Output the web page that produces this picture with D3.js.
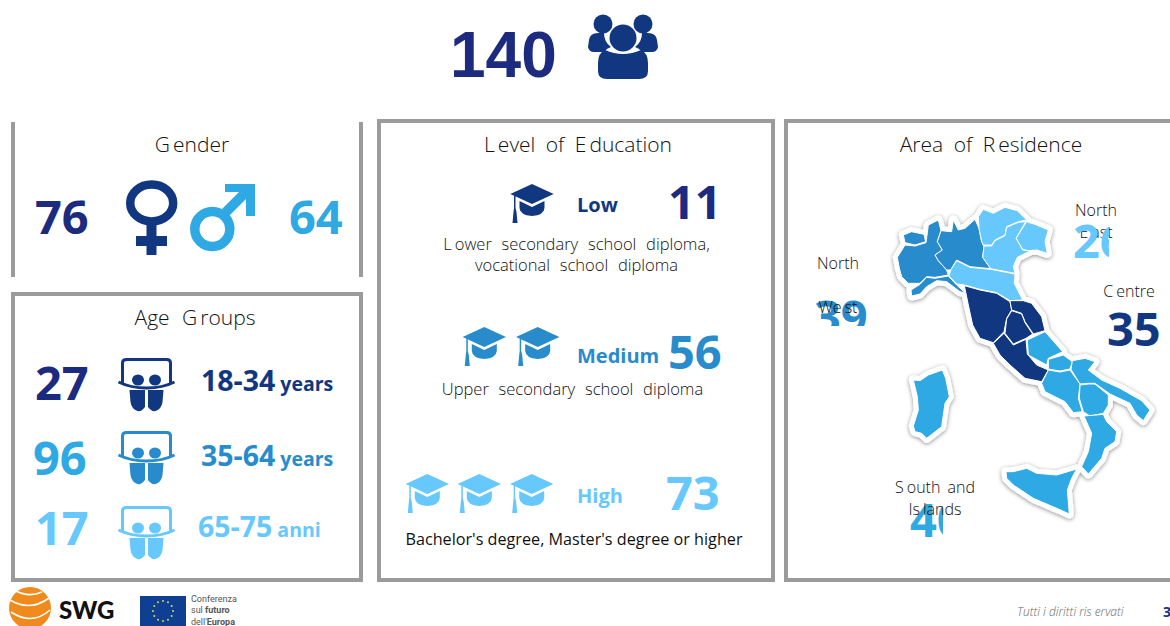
<!DOCTYPE html>
<html>
<head>
<meta charset="utf-8">
<script src="https://d3js.org/d3.v7.min.js"></script>
<style>
  html, body { margin: 0; padding: 0; background: #fff; overflow: hidden; }
  text { font-family: "Open Sans", sans-serif; }
  .num { font-weight: 700; font-size: 47px; }
  .title { font-weight: 300; font-size: 21px; fill: #111; word-spacing: 5px; }
  .region { font-weight: 300; font-size: 16px; fill: #111; word-spacing: 3px; }
  .note { font-weight: 300; font-size: 16.5px; fill: #111; word-spacing: 5.5px; }
  .note.plain { font-weight: 400; font-size: 16.2px; word-spacing: 0; }
  .lab { font-weight: 700; }
</style>
</head>
<body>
<div id="viz"></div>
<script>
// values
var total = 140;

var genderNames = ["Female", "Male"];
var genderValues = [76, 64];

var ageGroups = ["18-34", "35-64", "65-75"];
var ageUnits = ["years", "years", "anni"];
var ageValues = [27, 96, 17];

var eduLevels = ["Low", "Medium", "High"];
var eduValues = [11, 56, 73];
var eduHats = [1, 2, 3];
var eduNotes = [
    ["L|ower secondary school diploma,", "vocational school diploma"],
    ["Upper secondary school diploma"],
    ["Bachelor's degree, Master's degree or higher"]
];

var regionNames = ["North West", "North East", "Centre", "South and Islands"];
var regionValues = [39, 26, 35, 40];
var regionLines = [["North", "We|st"], ["North", "E|ast"], ["C|entre"], ["S|outh and", "Is|lands"]];

// colours
var navy = "#1c2a80", dark = "#10377f", mid = "#288bcb", sky = "#2fa9e3", light = "#66c8fd";

var width = 1170, height = 626;

var svg = d3.select("#viz").append("svg")
    .attr("width", width)
    .attr("height", height)
    .style("display", "block");

var defs = svg.append("defs");

// puts real text in, with the odd gap the slide has after some letters
function gapText(sel, str) {
    str.split("|").forEach(function(part, i) {
        sel.append("tspan").attr("dx", i ? 3 : null).text(part);
    });
    return sel;
}

// ---- panels
var grey = "#9b9b9b";
[[13, 122, 13, 277], [361, 122, 361, 277]].forEach(function(l) {
    svg.append("line")
        .attr("x1", l[0]).attr("y1", l[1]).attr("x2", l[2]).attr("y2", l[3])
        .attr("stroke", grey).attr("stroke-width", 4);
});
[[13, 294, 348, 286], [379, 121, 394, 459], [786, 121, 400, 459]].forEach(function(r) {
    svg.append("rect")
        .attr("x", r[0]).attr("y", r[1]).attr("width", r[2]).attr("height", r[3])
        .attr("fill", "none").attr("stroke", grey).attr("stroke-width", 4);
});

svg.append("text").attr("class", "title").attr("x", 192).attr("y", 152).attr("text-anchor", "middle").call(gapText, "G|ender");
svg.append("text").attr("class", "title").attr("x", 195).attr("y", 325).attr("text-anchor", "middle").style("word-spacing", "7px").call(gapText, "Age G|roups");
svg.append("text").attr("class", "title").attr("x", 578).attr("y", 152).attr("text-anchor", "middle").call(gapText, "L|evel of E|ducation");
svg.append("text").attr("class", "title").attr("x", 991).attr("y", 152).attr("text-anchor", "middle").call(gapText, "Area of R|esidence");

// ---- total
svg.append("text")
    .attr("x", 450).attr("y", 77)
    .style("font-family", "'Liberation Sans', sans-serif")
    .style("font-weight", 700).style("font-size", "64px")
    .attr("fill", navy)
    .text(total);

var people = svg.append("g").attr("transform", "translate(623,0)").attr("fill", dark);
[-20, 20].forEach(function(dx) {
    people.append("circle").attr("cx", dx).attr("cy", 24).attr("r", 9.5);
    people.append("path")
        .attr("transform", "translate(" + dx + ",0)" + (dx > 0 ? " scale(-1,1)" : ""))
        .attr("d", "M-5,33 Q-13,33 -14,40 L-15,47 Q-14,52 -9,52 L1,52 Q4,48 8,47 Q1,42 1,33 Z");
});
people.append("circle").attr("cx", 0).attr("cy", 38).attr("r", 13.5);
people.append("path").attr("d", "M-18,50 Q0,58 18,50 Q25,53 25,63 L25,71 Q25,79 16,79 L-16,79 Q-25,79 -25,71 L-25,63 Q-25,53 -18,50 Z");

// ---- gender
var genderX = d3.scaleOrdinal().domain(genderNames).range([35, 289]);
var genderFill = d3.scaleOrdinal().domain(genderNames).range([navy, sky]);

svg.selectAll(".gender").data(genderNames).enter().append("text")
    .attr("class", "num gender")
    .attr("x", function(d) { return genderX(d); })
    .attr("y", 234)
    .attr("fill", function(d) { return genderFill(d); })
    .text(function(d, i) { return genderValues[i]; });

var venus = svg.append("g").attr("fill", dark);
venus.append("ellipse").attr("cx", 151.7).attr("cy", 203).attr("rx", 21.5).attr("ry", 18.5)
    .attr("fill", "none").attr("stroke", dark).attr("stroke-width", 8.5);
venus.append("rect").attr("x", 146.5).attr("y", 224).attr("width", 10).attr("height", 31);
venus.append("rect").attr("x", 136).attr("y", 236).attr("width", 31).attr("height", 10);

var mars = svg.append("g");
mars.append("circle").attr("cx", 212.3).attr("cy", 229).attr("r", 17.5)
    .attr("fill", "none").attr("stroke", sky).attr("stroke-width", 9.5);
mars.append("path").attr("fill", sky)
    .attr("d", "M225,184 L255,184 L255,216 L246,216 L246,199 L229,216 L222,209 L239,192 L225,192 Z");

// ---- age
var ageY = d3.scaleOrdinal().domain(ageGroups).range([400, 475, 545]);
var ageNumX = d3.scaleOrdinal().domain(ageGroups).range([35, 33, 35]);
var ageNumFill = d3.scaleOrdinal().domain(ageGroups).range([navy, sky, light]);
var ageFill = d3.scaleOrdinal().domain(ageGroups).range([dark, mid, light]);
var ageLabX = d3.scaleOrdinal().domain(ageGroups).range([201, 201, 198]);
var ageLabY = d3.scaleOrdinal().domain(ageGroups).range([391, 466, 537]);
var ageIconY = d3.scaleOrdinal().domain(ageGroups).range([358, 431, 506]);

svg.selectAll(".agenum").data(ageGroups).enter().append("text")
    .attr("class", "num agenum")
    .attr("x", function(d) { return ageNumX(d); })
    .attr("y", function(d) { return ageY(d); })
    .attr("fill", function(d) { return ageNumFill(d); })
    .text(function(d, i) { return ageValues[i]; });

var ageLab = svg.selectAll(".agelab").data(ageGroups).enter().append("text")
    .attr("class", "lab agelab")
    .attr("x", function(d) { return ageLabX(d); })
    .attr("y", function(d) { return ageLabY(d); })
    .attr("fill", function(d) { return ageFill(d); });
ageLab.append("tspan").style("font-size", "28.5px").text(function(d) { return d; });
ageLab.append("tspan").style("font-size", "19.5px").attr("dx", 5).text(function(d, i) { return ageUnits[i]; });

var ageIcon = svg.selectAll(".ageicon").data(ageGroups).enter().append("g")
    .attr("class", "ageicon")
    .attr("transform", function(d) { return "translate(146.5," + ageIconY(d) + ")"; });
ageIcon.each(function(d) {
    var g = d3.select(this), c = ageFill(d);
    g.append("path").attr("fill", "none").attr("stroke", c).attr("stroke-width", 3)
        .attr("d", "M-24,25 L-24,5 Q-24,1.5 -20,1.5 L20,1.5 Q24,1.5 24,5 L24,25");
    g.append("path").attr("fill", "none").attr("stroke", c).attr("stroke-width", 3)
        .attr("d", "M-28,24 Q-16,30 0,30 Q16,30 28,24");
    g.append("ellipse").attr("cx", -8.5).attr("cy", 22).attr("rx", 6).attr("ry", 5.5).attr("fill", c);
    g.append("ellipse").attr("cx", 8.5).attr("cy", 22).attr("rx", 6).attr("ry", 5.5).attr("fill", c);
    [1, -1].forEach(function(s) {
        g.append("path").attr("fill", c).attr("transform", "scale(" + s + ",1)")
            .attr("d", "M-17,32 L-1.5,32 L-1.5,49 Q-5,54 -9,53 Q-15,51 -16,44 Z");
    });
});

// ---- education
var eduNumX = d3.scaleOrdinal().domain(eduLevels).range([668, 668, 666]);
var eduNumY = d3.scaleOrdinal().domain(eduLevels).range([219, 369, 510]);
var eduLabY = d3.scaleOrdinal().domain(eduLevels).range([212, 363, 503]);
var eduFill = d3.scaleOrdinal().domain(eduLevels).range([dark, mid, light]);
var eduNumFill = d3.scaleOrdinal().domain(eduLevels).range([navy, mid, light]);
var eduNoteY = d3.scaleOrdinal().domain(eduLevels).range([250, 395, 545]);
var eduNoteX = d3.scaleOrdinal().domain(eduLevels).range([576.5, 572.5, 574]);
var eduHatY = d3.scaleOrdinal().domain(eduLevels).range([184, 327, 474]);
var hatX = d3.scaleOrdinal().domain(eduLevels).range([[532], [484.3, 537.7], [427.3, 479.3, 531.7]]);

svg.selectAll(".edulab").data(eduLevels).enter().append("text")
    .attr("class", "lab edulab")
    .attr("x", 577)
    .attr("y", function(d) { return eduLabY(d); })
    .attr("fill", function(d) { return eduFill(d); })
    .style("font-size", "20px")
    .text(function(d) { return d; });

svg.selectAll(".edunum").data(eduLevels).enter().append("text")
    .attr("class", "num edunum")
    .attr("x", function(d) { return eduNumX(d); })
    .attr("y", function(d) { return eduNumY(d); })
    .attr("fill", function(d) { return eduNumFill(d); })
    .text(function(d, i) { return eduValues[i]; });

eduLevels.forEach(function(level, i) {
    eduNotes[i].forEach(function(line, j) {
        svg.append("text")
            .attr("class", level == "High" ? "note plain" : "note")
            .attr("x", eduNoteX(level))
            .attr("y", eduNoteY(level) + j * 21)
            .attr("text-anchor", "middle")
            .call(gapText, line);
    });
    d3.range(eduHats[i]).forEach(function(k) {
        var hat = svg.append("g")
            .attr("fill", eduFill(level))
            .attr("transform", "translate(" + hatX(level)[k] + "," + eduHatY(level) + ")");
        hat.append("path").attr("d", "M-21.7,10 L0,0 L21.7,10 L0,20 Z");
        hat.append("path").attr("d", "M-12.5,17 L0,23 L12.5,17 L12.5,24 Q12,31 0,32 Q-12,31 -12.5,24 Z");
        hat.append("path").attr("d", "M-18,12 L-16.5,12 L-16.5,24 L-15.5,28 L-14.5,39 L-19.5,39 L-18.5,28 L-18,24 Z");
    });
});

// ---- map, outlines at 3x, offset to its corner
var mapX = d3.scaleLinear().domain([0, 1170]).range([780, 1170]);
var mapY = d3.scaleLinear().domain([0, 1110]).range([170, 540]);
var outline = d3.line().x(function(p) { return mapX(p[0]); }).y(function(p) { return mapY(p[1]); }).curve(d3.curveLinearClosed);

var mapShapes = [
    ["North West", [[370,195],[395,185],[432,193],[437,215],[405,225],[375,218]]],
    ["North West", [[352,262],[375,225],[405,228],[438,218],[445,165],[475,150],[483,182],[472,215],[487,240],[465,255],[475,272],[500,300],[505,315],[465,322],[440,320],[420,340],[385,340],[365,320],[358,295]]],
    ["North West", [[393,360],[420,343],[440,322],[465,325],[505,318],[530,345],[557,370],[540,365],[500,335],[470,332],[440,350],[420,372],[395,378]]],
    ["North West", [[483,182],[515,185],[520,150],[535,180],[555,175],[585,148],[597,175],[605,215],[612,230],[608,262],[632,296],[570,290],[530,270],[512,300],[500,300],[475,272],[465,255],[487,240],[472,215]]],
    ["North East", [[595,140],[610,118],[640,130],[675,112],[712,122],[740,150],[715,155],[680,170],[675,195],[645,210],[635,225],[610,225],[605,215],[597,175]]],
    ["North East", [[740,155],[770,165],[805,180],[795,215],[802,250],[770,240],[745,242],[728,238],[708,205]]],
    ["North East", [[612,228],[635,228],[645,212],[675,197],[680,172],[715,157],[737,155],[708,205],[728,240],[750,243],[712,262],[700,290],[705,310],[632,296],[608,262]]],
    ["North East", [[512,300],[530,272],[570,292],[632,298],[705,312],[703,340],[728,390],[690,392],[650,368],[600,358],[553,345],[530,342],[507,318]]],
    ["Centre", [[553,347],[600,360],[650,370],[690,395],[695,420],[680,445],[672,485],[640,518],[600,505],[578,465],[565,405]]],
    ["Centre", [[690,392],[730,392],[755,400],[785,440],[795,482],[760,492],[735,455],[725,430],[695,420]]],
    ["Centre", [[695,422],[725,432],[735,458],[758,492],[738,505],[700,522],[675,490],[680,447]]],
    ["Centre", [[640,520],[672,490],[700,525],[738,508],[742,552],[770,585],[805,600],[785,635],[735,625],[690,585],[660,555]]],
    ["South and Islands", [[742,510],[795,485],[848,545],[805,565],[800,585],[745,555]]],
    ["South and Islands", [[805,568],[850,555],[877,575],[870,597],[840,603],[805,597]]],
    ["South and Islands", [[805,600],[840,606],[870,600],[900,642],[895,685],[907,725],[880,728],[855,695],[795,665],[785,640]]],
    ["South and Islands", [[877,572],[915,565],[945,575],[925,600],[965,630],[1020,655],[1085,692],[1110,720],[1090,752],[1070,735],[1050,700],[990,672],[945,640],[925,640],[900,642],[873,598]]],
    ["South and Islands", [[900,645],[925,642],[945,642],[985,675],[985,705],[970,730],[930,738],[910,725],[898,685]]],
    ["South and Islands", [[912,738],[970,733],[980,755],[1010,785],[1005,815],[975,835],[965,865],[925,912],[905,890],[925,845],[935,790]]],
    ["South and Islands", [[678,905],[700,905],[740,895],[770,910],[830,915],[890,897],[875,925],[862,960],[868,1032],[835,1017],[760,985],[700,945],[680,925]]],
    ["South and Islands", [[400,630],[420,632],[445,615],[487,600],[497,625],[508,680],[495,700],[485,770],[440,805],[425,790],[405,785],[400,768],[415,720],[412,680]]]
];
var mapFill = d3.scaleOrdinal().domain(regionNames).range([mid, light, dark, sky]);

var shadow = defs.append("filter").attr("id", "halo").attr("x", "-10%").attr("y", "-10%").attr("width", "120%").attr("height", "120%");
shadow.append("feDropShadow").attr("dx", 0).attr("dy", 1).attr("stdDeviation", 2.2).attr("flood-color", "#000").attr("flood-opacity", 0.45);

svg.append("g").attr("filter", "url(#halo)")
    .selectAll("path").data(mapShapes).enter().append("path")
    .attr("d", function(d) { return outline(d[1]); })
    .attr("fill", "#fff").attr("stroke", "#fff").attr("stroke-width", 9).attr("stroke-linejoin", "round");

svg.append("g")
    .selectAll("path").data(mapShapes).enter().append("path")
    .attr("d", function(d) { return outline(d[1]); })
    .attr("fill", function(d) { return mapFill(d[0]); })
    .attr("stroke", "#fff").attr("stroke-width", 1).attr("stroke-linejoin", "round");

// ---- region labels and the numbers the slide crops
var regX = d3.scaleOrdinal().domain(regionNames).range([814, 1073, 1107, 910]);
var regY = d3.scaleOrdinal().domain(regionNames).range([334, 258, 346, 537]);
var regNumFill = d3.scaleOrdinal().domain(regionNames).range([mid, light, dark, sky]);
var regTextX = d3.scaleOrdinal().domain(regionNames).range([838, 1096, 1129, 935]);
var regTextY = d3.scaleOrdinal().domain(regionNames).range([269, 216, 297, 493]);
var regLead = d3.scaleOrdinal().domain(regionNames).range([44, 22, 0, 22]);
var clips = [[810, 290, 70, 36], [1060, 215, 49, 50], [1090, 300, 80, 60], [900, 495, 43, 50]];

regionNames.forEach(function(name, i) {
    var id = "clip" + i;
    defs.append("clipPath").attr("id", id).append("rect")
        .attr("x", clips[i][0]).attr("y", clips[i][1]).attr("width", clips[i][2]).attr("height", clips[i][3]);

    function drawNum() {
        svg.append("g").attr("clip-path", "url(#" + id + ")").append("text")
            .attr("class", "num")
            .attr("x", regX(name)).attr("y", regY(name))
            .attr("fill", regNumFill(name))
            .text(regionValues[i]);
    }
    function drawText() {
        regionLines[i].forEach(function(line, j) {
            svg.append("text").attr("class", "region")
                .attr("x", regTextX(name))
                .attr("y", regTextY(name) + j * regLead(name))
                .attr("text-anchor", "middle")
                .call(gapText, line);
        });
    }
    // on the north east block the number sits over the label
    if (name == "North East") { drawText(); drawNum(); } else { drawNum(); drawText(); }
});

// ---- footer
var logo = svg.append("g");
logo.append("circle").attr("cx", 30).attr("cy", 608).attr("r", 21).attr("fill", "#f08a1d");
["M10,600 Q30,612 49,598", "M11,612 Q32,626 50,610", "M14,590 Q28,598 42,592"].forEach(function(d) {
    logo.append("path").attr("d", d).attr("fill", "none").attr("stroke", "#fff").attr("stroke-width", 1.6);
});
logo.append("text").attr("x", 59).attr("y", 619)
    .style("font-family", "Lato, sans-serif").style("font-weight", 900).style("font-size", "24px")
    .attr("fill", "#111").text("SWG");

svg.append("rect").attr("x", 140).attr("y", 596).attr("width", 46).attr("height", 30).attr("fill", "#0f3f93");
svg.append("g").selectAll("circle").data(d3.range(12)).enter().append("circle")
    .attr("cx", function(d) { return 163 + 10 * Math.sin(d * Math.PI / 6); })
    .attr("cy", function(d) { return 611 - 10 * Math.cos(d * Math.PI / 6); })
    .attr("r", 1).attr("fill", "#d8d84a");

var eu = svg.append("g").style("font-size", "9px").attr("fill", "#555");
eu.append("text").style("font-family", "Roboto, sans-serif").attr("x", 191).attr("y", 602).text("Conferenza");
var eu2 = eu.append("text").style("font-family", "Roboto, sans-serif").attr("x", 191).attr("y", 613);
eu2.append("tspan").text("sul ");
eu2.append("tspan").style("font-weight", 700).text("futuro");
var eu3 = eu.append("text").style("font-family", "Roboto, sans-serif").attr("x", 191).attr("y", 625);
eu3.append("tspan").text("dell'");
eu3.append("tspan").style("font-weight", 700).text("Europa");

svg.append("text").attr("x", 1017).attr("y", 616)
    .style("font-size", "12px").style("font-style", "italic").style("font-weight", 300)
    .attr("fill", "#666").call(gapText, "Tutti i diritti ris|ervati");
svg.append("text").attr("x", 1163).attr("y", 617)
    .style("font-size", "14px").style("font-weight", 700)
    .attr("fill", dark).text("3");
</script>
</body>
</html>
